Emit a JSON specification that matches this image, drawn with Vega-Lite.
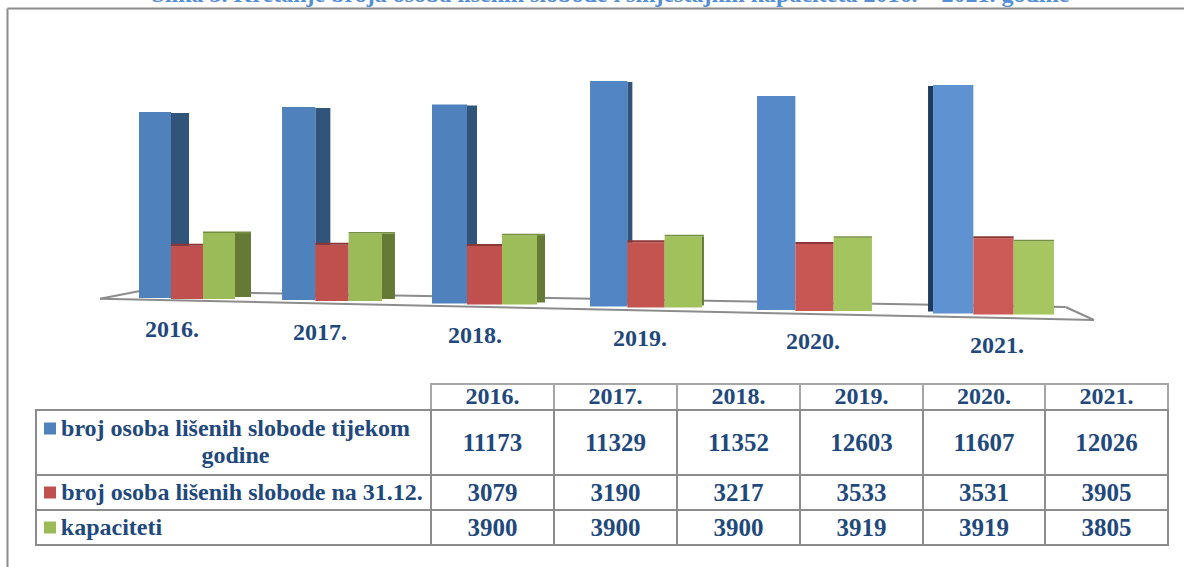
{
"$schema":"https://vega.github.io/schema/vega-lite/v6.json",
"width":1177,"height":559,
"autosize":"none",
"padding":{"left":7,"top":8,"right":0,"bottom":0},
"background":"white",
"config":{"view":{"stroke":null},"text":{"font":"Liberation Serif"}},
"title":{"text":"Slika 3. Kretanje broja osoba lišenih slobode i smještajnih kapaciteta 2016. – 2021. godine","font":"Liberation Serif","fontWeight":"bold","fontSize":24,"color":"#558ed5","anchor":"middle","frame":"group","offset":1,"dx":15,"limit":1200},
"params":[
{"name":"W","value":[32,33.3,35,37.3,38.3,40.3]},
{"name":"D","value":[1,3,6.5,9.5,13,16.5]},
{"name":"K","value":[0,0.00038,0.00088,0.00125,0.00179,0.00235]},
{"name":"SB","value":[18,15,10,5,0,-5]},
{"name":"SG","value":[16,13,8,2,0,0]},
{"name":"S","value":["broj osoba lišenih slobode tijekom godine","broj osoba lišenih slobode na 31.12.","kapaciteti"]}
],
"datasets":{
"rows":[
{"year":2016,"series":"broj osoba lišenih slobode tijekom godine","value":11173},
{"year":2017,"series":"broj osoba lišenih slobode tijekom godine","value":11329},
{"year":2018,"series":"broj osoba lišenih slobode tijekom godine","value":11352},
{"year":2019,"series":"broj osoba lišenih slobode tijekom godine","value":12603},
{"year":2020,"series":"broj osoba lišenih slobode tijekom godine","value":11607},
{"year":2021,"series":"broj osoba lišenih slobode tijekom godine","value":12026},
{"year":2016,"series":"broj osoba lišenih slobode na 31.12.","value":3079},
{"year":2017,"series":"broj osoba lišenih slobode na 31.12.","value":3190},
{"year":2018,"series":"broj osoba lišenih slobode na 31.12.","value":3217},
{"year":2019,"series":"broj osoba lišenih slobode na 31.12.","value":3533},
{"year":2020,"series":"broj osoba lišenih slobode na 31.12.","value":3531},
{"year":2021,"series":"broj osoba lišenih slobode na 31.12.","value":3905},
{"year":2016,"series":"kapaciteti","value":3900},
{"year":2017,"series":"kapaciteti","value":3900},
{"year":2018,"series":"kapaciteti","value":3900},
{"year":2019,"series":"kapaciteti","value":3919},
{"year":2020,"series":"kapaciteti","value":3919},
{"year":2021,"series":"kapaciteti","value":3805}
],
"years":[{"year":2016},{"year":2017},{"year":2018},{"year":2019},{"year":2020},{"year":2021}],
"series":[{"series":"broj osoba lišenih slobode tijekom godine"},{"series":"broj osoba lišenih slobode na 31.12."},{"series":"kapaciteti"}],
"one":[{"a":1}]
},
"resolve":{"scale":{"x":"independent","y":"independent"},"axis":{"x":"independent","y":"independent"}},
"layer":[
{"data":{"name":"one"},"mark":{"type":"point","opacity":0},
 "encoding":{
 "x":{"datum":0,"type":"quantitative","scale":{"domain":[0,1],"nice":false},"axis":{"orient":"top","title":null,"labels":false,"ticks":false,"grid":false,"domain":true,"domainColor":"#8c8c8c","domainWidth":2}},
 "y":{"datum":0,"type":"quantitative","scale":{"domain":[0,1],"nice":false},"axis":{"orient":"left","title":null,"labels":false,"ticks":false,"grid":false,"domain":true,"domainColor":"#8c8c8c","domainWidth":2}}}},
{
"data":{"name":"rows"},
"layer":[
{"data":{"name":"one"},"mark":{"type":"rule","stroke":"#8c8c8c","strokeWidth":2,"xOffset":-87,"x2Offset":100.5,"yOffset":1.7,"y2Offset":23},
 "encoding":{"x":{"datum":2016,"type":"quantitative","axis":null},"x2":{"datum":2021},"y":{"datum":0,"type":"quantitative","axis":null},"y2":{"datum":0}}},
{"data":{"name":"one"},"mark":{"type":"rule","stroke":"#8c8c8c","strokeWidth":2,"xOffset":-47,"x2Offset":72,"yOffset":-6,"y2Offset":10},
 "encoding":{"x":{"datum":2016,"type":"quantitative","axis":null},"x2":{"datum":2021},"y":{"datum":0,"type":"quantitative","axis":null},"y2":{"datum":0}}},
{"data":{"name":"one"},"mark":{"type":"rule","stroke":"#8c8c8c","strokeWidth":2,"xOffset":-87,"x2Offset":-47,"yOffset":1.7,"y2Offset":-6},
 "encoding":{"x":{"datum":2016,"type":"quantitative","axis":null},"x2":{"datum":2016},"y":{"datum":0,"type":"quantitative","axis":null},"y2":{"datum":0}}},
{"data":{"name":"one"},"mark":{"type":"rule","stroke":"#8c8c8c","strokeWidth":2,"xOffset":100.5,"x2Offset":72,"yOffset":23,"y2Offset":10},
 "encoding":{"x":{"datum":2021,"type":"quantitative","axis":null},"x2":{"datum":2021},"y":{"datum":0,"type":"quantitative","axis":null},"y2":{"datum":0}}},
{"encoding":{
 "x":{"field":"year","type":"quantitative","axis":null,"scale":{"domain":[2015,2016,2017,2018,2019,2020,2021,2022],"range":[0,180,325,477.5,639,807.5,986.5,1177],"nice":false,"zero":false}},
 "x2":{"field":"year"},
 "y":{"field":"value","type":"quantitative","axis":null,"scale":{"domain":[-16216,17357],"nice":false,"zero":false}}},
 "layer":[
{"transform":[{"filter":{"field":"series","equal":"broj osoba lišenih slobode tijekom godine"}}],
 "mark":{"type":"rect","fill":{"expr":"datum.year==2021?'#1f3a5c':'#31547a'"},
 "xOffset":{"expr":"SB[datum.year-2016]>=0?-0.5*W[datum.year-2016]:-1.5*W[datum.year-2016]+SB[datum.year-2016]"},
 "x2Offset":{"expr":"SB[datum.year-2016]>=0?-0.5*W[datum.year-2016]+SB[datum.year-2016]:-1.5*W[datum.year-2016]"},
 "yOffset":{"expr":"D[datum.year-2016]-datum.value*K[datum.year-2016]+1"},
 "y2Offset":{"expr":"D[datum.year-2016]-2"}},
 "encoding":{"y2":{"datum":0}}},
{"transform":[{"filter":{"field":"series","equal":"kapaciteti"}}],
 "mark":{"type":"rect","fill":"#657a35",
 "xOffset":{"expr":"1.5*W[datum.year-2016]"},
 "x2Offset":{"expr":"1.5*W[datum.year-2016]+SG[datum.year-2016]"},
 "yOffset":{"expr":"D[datum.year-2016]-datum.value*K[datum.year-2016]"},
 "y2Offset":{"expr":"D[datum.year-2016]-1"}},
 "encoding":{"y2":{"datum":0}}},
{"transform":[{"filter":{"field":"series","equal":"broj osoba lišenih slobode tijekom godine"}}],
 "mark":{"type":"rect","fill":{"expr":"['#4f81bd','#4f81bd','#4f81bd','#5285c3','#5589c8','#5f92d1'][datum.year-2016]"},
 "xOffset":{"expr":"-1.5*W[datum.year-2016]"},
 "x2Offset":{"expr":"-0.5*W[datum.year-2016]"},
 "yOffset":{"expr":"D[datum.year-2016]-datum.value*K[datum.year-2016]"},
 "y2Offset":{"expr":"D[datum.year-2016]"}},
 "encoding":{"y2":{"datum":0}}},
{"transform":[{"filter":{"field":"series","equal":"broj osoba lišenih slobode na 31.12."}}],
 "mark":{"type":"rect","fill":{"expr":"['#c0504d','#c0504d','#c0504d','#c45450','#c85652','#cc5b57'][datum.year-2016]"},
 "xOffset":{"expr":"-0.5*W[datum.year-2016]"},
 "x2Offset":{"expr":"0.5*W[datum.year-2016]"},
 "yOffset":{"expr":"D[datum.year-2016]-datum.value*K[datum.year-2016]-1"},
 "y2Offset":{"expr":"D[datum.year-2016]+1"}},
 "encoding":{"y2":{"datum":0}}},
{"transform":[{"filter":{"field":"series","equal":"broj osoba lišenih slobode na 31.12."}}],
 "mark":{"type":"rect","fill":"#8b3735",
 "xOffset":{"expr":"-0.5*W[datum.year-2016]"},
 "x2Offset":{"expr":"0.5*W[datum.year-2016]"},
 "yOffset":{"expr":"D[datum.year-2016]-datum.value*K[datum.year-2016]-3"},
 "y2Offset":{"expr":"D[datum.year-2016]-datum.value*K[datum.year-2016]-1"}},
 "encoding":{"y2":{"field":"value"}}},
{"transform":[{"filter":{"field":"series","equal":"kapaciteti"}}],
 "mark":{"type":"rect","fill":{"expr":"['#9bbb59','#9bbb59','#9dbd5a','#a0c15b','#a3c45e','#a5c660'][datum.year-2016]"},
 "xOffset":{"expr":"0.5*W[datum.year-2016]"},
 "x2Offset":{"expr":"1.5*W[datum.year-2016]"},
 "yOffset":{"expr":"D[datum.year-2016]-datum.value*K[datum.year-2016]"},
 "y2Offset":{"expr":"D[datum.year-2016]+1"}},
 "encoding":{"y2":{"datum":0}}},
{"transform":[{"filter":{"field":"series","equal":"kapaciteti"}}],
 "mark":{"type":"rect","fill":"#738e3d",
 "xOffset":{"expr":"0.5*W[datum.year-2016]"},
 "x2Offset":{"expr":"1.5*W[datum.year-2016]+SG[datum.year-2016]"},
 "yOffset":{"expr":"D[datum.year-2016]-datum.value*K[datum.year-2016]-1.5"},
 "y2Offset":{"expr":"D[datum.year-2016]-datum.value*K[datum.year-2016]"}},
 "encoding":{"y2":{"field":"value"}}}
 ]},
{"data":{"name":"years"},
 "transform":[{"calculate":"datum.year+'.'","as":"lab"}],
 "mark":{"type":"text","font":"Liberation Serif","fontWeight":"bold","fontSize":24,"color":"#1f497d","baseline":"middle",
 "dx":{"expr":"[-15,-12,-9.5,-6,-1.5,3.5][datum.year-2016]"},
 "dy":{"expr":"[33,36,39,42,45,49][datum.year-2016]"}},
 "encoding":{"x":{"field":"year","type":"quantitative","axis":null},"y":{"datum":0,"type":"quantitative","axis":null},"text":{"field":"lab"}}}
]
},
{
"layer":[
{"data":{"name":"years"},"transform":[{"calculate":"datum.year","as":"cx"},{"calculate":"datum.year+1","as":"cx2"},{"calculate":"0","as":"cy"},{"calculate":"1","as":"cy2"}],
 "mark":{"type":"rect","fill":null,"stroke":"#a6a6a6","strokeWidth":2},
 "encoding":{
 "x":{"field":"cx","type":"quantitative","axis":null,"scale":{"domain":[2015,2016,2017,2018,2019,2020,2021,2022],"range":[29,424,547,670,793,916,1038,1161],"nice":false,"zero":false}},
 "y":{"field":"cy","type":"quantitative","axis":null,"scale":{"domain":[0,1,2,3,4],"range":[376,402,467,502,537],"nice":false,"zero":false}},
 "x2":{"field":"cx2"},"y2":{"field":"cy2"}}},
{"data":{"name":"rows"},"transform":[{"calculate":"datum.year","as":"cx"},{"calculate":"datum.year+1","as":"cx2"},{"calculate":"indexof(S,datum.series)+1","as":"cy"},{"calculate":"datum.cy+1","as":"cy2"}],
 "mark":{"type":"rect","fill":null,"stroke":"#8c8c8c","strokeWidth":2},
 "encoding":{"x":{"field":"cx","type":"quantitative","axis":null},"y":{"field":"cy","type":"quantitative","axis":null},"x2":{"field":"cx2"},"y2":{"field":"cy2"}}},
{"data":{"name":"series"},"transform":[{"calculate":"2015","as":"cx"},{"calculate":"2016","as":"cx2"},{"calculate":"indexof(S,datum.series)+1","as":"cy"},{"calculate":"datum.cy+1","as":"cy2"}],
 "mark":{"type":"rect","fill":null,"stroke":"#8c8c8c","strokeWidth":2},
 "encoding":{"x":{"field":"cx","type":"quantitative","axis":null},"y":{"field":"cy","type":"quantitative","axis":null},"x2":{"field":"cx2"},"y2":{"field":"cy2"}}},
{"data":{"name":"years"},"transform":[{"calculate":"datum.year+0.5","as":"cx"},{"calculate":"0.5","as":"cy"},{"calculate":"datum.year+'.'","as":"lab"}],
 "mark":{"type":"text","font":"Liberation Serif","fontWeight":"bold","fontSize":24,"color":"#1f497d","baseline":"middle"},
 "encoding":{"x":{"field":"cx","type":"quantitative","axis":null},"y":{"field":"cy","type":"quantitative","axis":null},"text":{"field":"lab"}}},
{"data":{"name":"rows"},"transform":[{"calculate":"datum.year+0.5","as":"cx"},{"calculate":"indexof(S,datum.series)+1.5","as":"cy"}],
 "mark":{"type":"text","font":"Liberation Serif","fontWeight":"bold","fontSize":25,"color":"#1f497d","baseline":"middle"},
 "encoding":{"x":{"field":"cx","type":"quantitative","axis":null},"y":{"field":"cy","type":"quantitative","axis":null},"text":{"field":"value","type":"quantitative","format":"d"}}},
{"data":{"name":"series"},"transform":[{"calculate":"2015","as":"cx"},{"calculate":"indexof(S,datum.series)+1.5","as":"cy"},{"calculate":"replace(datum.series,'tijekom ','tijekom\\n')","as":"lab"},{"calculate":"indexof(S,datum.series)","as":"i"}],
 "mark":{"type":"text","font":"Liberation Serif","fontWeight":"bold","fontSize":24,"color":"#1f497d","baseline":"middle","lineBreak":"\n","lineHeight":27,"dx":{"expr":"[199.5,206,75.5][datum.i]"},"dy":{"expr":"[-13.5,0,0][datum.i]"}},
 "encoding":{"x":{"field":"cx","type":"quantitative","axis":null},"y":{"field":"cy","type":"quantitative","axis":null},"text":{"field":"lab"}}},
{"data":{"name":"series"},"transform":[{"calculate":"2015","as":"cx"},{"calculate":"indexof(S,datum.series)+1.5","as":"cy"},{"calculate":"indexof(S,datum.series)","as":"i"}],
 "mark":{"type":"point","shape":"square","filled":true,"size":144,"opacity":1,"xOffset":14,"yOffset":{"expr":"[-14,0,0][datum.i]"}},
 "encoding":{"x":{"field":"cx","type":"quantitative","axis":null},"y":{"field":"cy","type":"quantitative","axis":null},"color":{"field":"series","type":"nominal","legend":null,"scale":{"domain":["broj osoba lišenih slobode tijekom godine","broj osoba lišenih slobode na 31.12.","kapaciteti"],"range":["#4f81bd","#c0504d","#9bbb59"]}}}}
]
}
]
}
